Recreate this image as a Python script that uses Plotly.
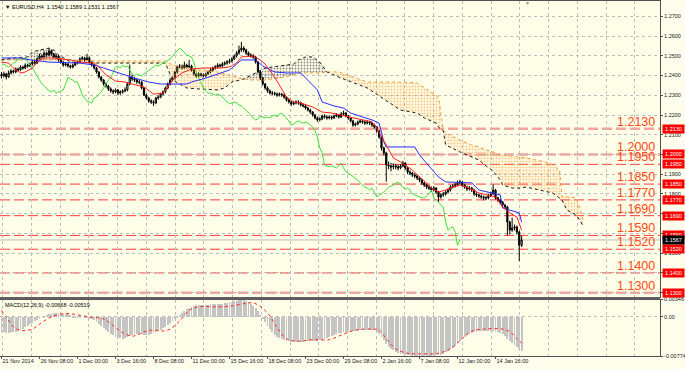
import plotly.graph_objects as go

# ---------------- DATA (prices in pips, /10000) ----------------
first_open = 12405
closes = [
    12398, 12408, 12393, 12413, 12423, 12418, 12433, 12428, 12443, 12438,
    12453, 12448, 12458, 12468, 12463, 12484, 12499, 12494, 12514, 12504,
    12524, 12509, 12494, 12499, 12479, 12468, 12453, 12458, 12448, 12443,
    12453, 12463, 12468, 12484, 12489, 12479, 12489, 12468, 12453, 12438,
    12418, 12392, 12377, 12357, 12347, 12332, 12322, 12317, 12327, 12311,
    12317, 12322, 12327, 12357, 12392, 12382, 12377, 12367, 12367, 12337,
    12301, 12286, 12271, 12266, 12261, 12286, 12291, 12306, 12317, 12337,
    12357, 12377, 12387, 12418, 12443, 12448, 12438, 12453, 12443, 12448,
    12428, 12408, 12398, 12408, 12403, 12398, 12408, 12418, 12428, 12438,
    12443, 12453, 12448, 12458, 12463, 12468, 12474, 12484, 12499, 12514,
    12529, 12539, 12529, 12514, 12504, 12499, 12494, 12468, 12418, 12387,
    12357, 12337, 12322, 12311, 12311, 12306, 12301, 12306, 12301, 12291,
    12276, 12266, 12256, 12261, 12266, 12261, 12251, 12246, 12235, 12225,
    12215, 12200, 12185, 12175, 12180, 12195, 12190, 12185, 12190, 12185,
    12195, 12200, 12190, 12205, 12210, 12195, 12185, 12170, 12149, 12154,
    12164, 12170, 12164, 12159, 12164, 12159, 12149, 12139, 12119, 12089,
    12033, 12008, 11947, 11942, 11937, 11942, 11937, 11932, 11942, 11957,
    11932, 11911, 11906, 11896, 11891, 11881, 11871, 11856, 11845, 11835,
    11830, 11820, 11830, 11810, 11785, 11795, 11800, 11810, 11820, 11835,
    11840, 11845, 11855, 11861, 11845, 11835, 11825, 11830, 11820, 11800,
    11795, 11790, 11785, 11780, 11780, 11790, 11800, 11820, 11780, 11769,
    11759, 11744, 11734, 11658, 11617, 11628, 11633, 11607, 11540, 11567,
]
highs = [
    12418, 12420, 12414, 12425, 12432, 12430, 12441, 12440, 12452, 12450,
    12462, 12460, 12466, 12478, 12475, 12492, 12510, 12508, 12522, 12520,
    12540, 12532, 12515, 12508, 12504, 12485, 12474, 12466, 12463, 12455,
    12460, 12470, 12476, 12492, 12498, 12495, 12510, 12496, 12474, 12458,
    12443, 12422, 12398, 12382, 12365, 12352, 12340, 12330, 12335, 12332,
    12325, 12330, 12340, 12365, 12455, 12405, 12392, 12385, 12378, 12372,
    12342, 12308, 12292, 12280, 12275, 12292, 12300, 12312, 12325, 12344,
    12365, 12386, 12396, 12425, 12450, 12458, 12455, 12470, 12460, 12478,
    12455, 12432, 12415, 12416, 12414, 12410, 12415, 12425, 12440, 12445,
    12452, 12462, 12460, 12468, 12472, 12478, 12485, 12492, 12506, 12524,
    12552, 12570, 12548, 12536, 12522, 12512, 12508, 12500, 12474, 12425,
    12394, 12362, 12345, 12330, 12322, 12318, 12315, 12314, 12312, 12308,
    12296, 12282, 12272, 12270, 12274, 12275, 12268, 12258, 12252, 12242,
    12232, 12220, 12206, 12192, 12188, 12202, 12204, 12198, 12198, 12196,
    12202, 12210, 12206, 12215, 12222, 12216, 12200, 12190, 12176, 12162,
    12172, 12178, 12175, 12170, 12172, 12170, 12166, 12155, 12144, 12124,
    12095, 12040, 12014, 11965, 11958, 11955, 11952, 11948, 11952, 11968,
    11962, 11938, 11920, 11912, 11905, 11898, 11888, 11878, 11862, 11852,
    11845, 11838, 11840, 11835, 11815, 11805, 11810, 11818, 11828, 11845,
    11850, 11856, 11868, 11872, 11866, 11852, 11842, 11840, 11836, 11826,
    11808, 11802, 11798, 11792, 11790, 11800, 11812, 11848, 11826, 11786,
    11775, 11765, 11750, 11740, 11664, 11680, 11645, 11640, 11614, 11589,
]
lows = [
    12385, 12390, 12380, 12388, 12405, 12410, 12412, 12420, 12422, 12430,
    12432, 12440, 12442, 12450, 12455, 12458, 12478, 12486, 12488, 12496,
    12498, 12500, 12486, 12485, 12470, 12460, 12444, 12446, 12440, 12435,
    12436, 12447, 12456, 12462, 12476, 12470, 12472, 12460, 12445, 12430,
    12410, 12385, 12368, 12348, 12338, 12322, 12312, 12305, 12310, 12300,
    12302, 12308, 12315, 12320, 12350, 12372, 12366, 12358, 12356, 12330,
    12295, 12278, 12262, 12256, 12246, 12255, 12278, 12285, 12300, 12310,
    12330, 12350, 12370, 12380, 12410, 12435, 12430, 12432, 12435, 12438,
    12420, 12400, 12388, 12392, 12394, 12390, 12392, 12402, 12412, 12420,
    12430, 12436, 12440, 12442, 12450, 12455, 12460, 12466, 12478, 12492,
    12506, 12520, 12518, 12505, 12495, 12490, 12485, 12460, 12410, 12378,
    12348, 12328, 12312, 12303, 12300, 12298, 12292, 12294, 12292, 12282,
    12268, 12258, 12246, 12250, 12254, 12252, 12243, 12238, 12228, 12218,
    12206, 12192, 12178, 12166, 12168, 12174, 12182, 12177, 12178, 12176,
    12180, 12188, 12182, 12185, 12198, 12188, 12176, 12162, 12140, 12142,
    12148, 12158, 12156, 12150, 12152, 12150, 12140, 12130, 12110, 12080,
    12020, 11995, 11862, 11925, 11915, 11925, 11925, 11920, 11925, 11935,
    11922, 11900, 11895, 11886, 11880, 11870, 11860, 11846, 11835, 11825,
    11820, 11810, 11812, 11800, 11760, 11776, 11786, 11792, 11802, 11812,
    11828, 11832, 11838, 11846, 11836, 11826, 11815, 11818, 11810, 11790,
    11785, 11780, 11775, 11768, 11770, 11772, 11784, 11795, 11772, 11760,
    11748, 11735, 11722, 11590, 11595, 11608, 11615, 11595, 11460, 11531,
]

tenkan_bars = [0, 3, 5, 8, 10, 13, 15, 18, 22, 25, 29, 33, 39, 41, 44, 48, 52, 55, 60, 64,
               68, 70, 72, 76, 80, 85, 92, 96, 99, 101, 106, 109, 111, 115, 118, 120, 123, 126, 131, 135,
               139, 146, 152, 156, 158, 160, 163, 165, 168, 171, 173, 176, 179, 181, 184, 187, 190, 193, 197, 201,
               205, 208, 211, 214, 217, 219]
tenkan = [12468, 12463, 12438, 12413, 12418, 12438, 12468, 12489, 12489, 12484, 12479, 12468, 12463, 12443, 12403, 12372, 12367, 12357, 12342, 12306,
          12311, 12342, 12377, 12413, 12433, 12438, 12438, 12443, 12463, 12494, 12499, 12479, 12458, 12392, 12327, 12291, 12266, 12261, 12241, 12215,
          12210, 12190, 12175, 12165, 12134, 12089, 12023, 11982, 11962, 11937, 11921, 11886, 11856, 11830, 11810, 11820, 11835, 11845, 11830, 11805,
          11795, 11785, 11734, 11704, 11683, 11617]

kijun_bars = [0, 8, 12, 20, 33, 39, 43, 48, 52, 56, 62, 67, 78, 80, 86, 91, 96, 99, 101, 107,
              110, 115, 120, 126, 129, 133, 135, 140, 144, 147, 152, 156, 159, 161, 162, 174, 176, 184, 187, 198,
              201, 210, 211, 218, 219]
kijun = [12489, 12489, 12479, 12468, 12463, 12453, 12438, 12418, 12403, 12387, 12367, 12357, 12357, 12367, 12387, 12408, 12428, 12458, 12479, 12479,
         12448, 12418, 12413, 12413, 12377, 12327, 12266, 12246, 12235, 12210, 12190, 12175, 12159, 12063, 12038, 12038, 11997, 11886, 11861, 11856,
         11820, 11795, 11729, 11704, 11658]

cloud_bars = [0, 2, 5, 11, 13, 16, 20, 22, 24, 27, 29, 41, 56, 69, 72, 78, 83, 91, 94, 97,
              102, 106, 111, 117, 123, 125, 128, 131, 134, 137, 139, 142, 154, 168, 175, 178, 183, 184, 186, 187,
              193, 198, 201, 204, 207, 210, 211, 215, 218, 221, 227, 229, 232, 235, 236, 238, 242, 244, 245]
span_orange = [12479, 12479, 12479, 12479, 12479, 12479, 12479, 12479, 12479, 12479, 12479, 12474, 12474, 12474, 12453, 12438, 12428, 12418, 12408, 12398,
               12382, 12377, 12377, 12387, 12403, 12413, 12413, 12413, 12413, 12418, 12418, 12418, 12367, 12367, 12362, 12337, 12296, 12291, 12124, 12109,
               12073, 12048, 12038, 12023, 12013, 11997, 11997, 11992, 11987, 11982, 11967, 11962, 11947, 11921, 11785, 11785, 11780, 11709, 11658]
span_black = [12479, 12484, 12489, 12494, 12519, 12529, 12539, 12529, 12504, 12484, 12468, 12463, 12463, 12463, 12377, 12337, 12332, 12327, 12337, 12367,
              12382, 12408, 12438, 12448, 12458, 12479, 12494, 12494, 12468, 12418, 12408, 12392, 12337, 12225, 12210, 12185, 12159, 12139, 12119, 12048,
              12013, 11987, 11972, 11942, 11916, 11871, 11845, 11830, 11830, 11835, 11820, 11815, 11805, 11779, 11769, 11719, 11693, 11658, 11632]

# MACD main (histogram) and signal, in units of 1e-5
macd_hist = [
    -290, -295, -300, -300, -295, -290, -280, -265, -245, -220,
    -190, -160, -130, -100, -70, -45, -20, 0, 20, 40,
    60, 70, 80, 85, 85, 80, 75, 70, 60, 50,
    35, 20, 10, 5, 0, -5, -10, -20, -40, -60,
    -90, -130, -170, -210, -250, -290, -320, -350, -380, -400,
    -415, -420, -410, -390, -360, -340, -330, -325, -330, -335,
    -340, -345, -340, -330, -310, -290, -270, -240, -210, -180,
    -150, -110, -70, -30, 10, 50, 90, 130, 160, 190,
    210, 230, 240, 245, 250, 250, 250, 255, 260, 260,
    265, 265, 270, 275, 285, 295, 305, 315, 325, 335,
    340, 346, 340, 325, 300, 270, 230, 180, 120, 50,
    -20, -90, -160, -230, -290, -340, -380, -410, -435, -455,
    -465, -475, -480, -485, -490, -490, -485, -480, -475, -475,
    -475, -475, -470, -465, -455, -440, -420, -400, -380, -360,
    -345, -330, -315, -300, -290, -285, -280, -275, -270, -265,
    -260, -255, -250, -245, -245, -245, -250, -255, -280, -320,
    -380, -440, -520, -580, -620, -650, -680, -700, -715, -725,
    -735, -745, -750, -755, -760, -765, -770, -774, -774, -770,
    -765, -760, -755, -750, -745, -735, -715, -690, -660, -630,
    -600, -560, -510, -460, -420, -385, -355, -330, -310, -295,
    -285, -275, -270, -268, -265, -265, -268, -270, -280, -290,
    -300, -330, -370, -420, -470, -510, -550, -590, -630, -668,
]
signal_bars = [0, 2, 6, 9, 13, 17, 21, 27, 32, 37, 41, 44, 48, 51, 55, 58, 61, 64, 68, 71,
               75, 79, 83, 91, 97, 103, 106, 110, 113, 116, 120, 125, 131, 138, 144, 149, 156, 159, 162, 166,
               171, 177, 184, 189, 194, 198, 203, 211, 214, 217, 219]
signal = [130, -10, -230, -270, -240, -110, 0, 70, 40, 0, -20, -60, -210, -310, -380, -340, -280, -260, -280, -240,
          -80, 130, 200, 200, 220, 270, 280, 170, 20, -210, -430, -480, -450, -450, -340, -260, -240, -260, -430, -630,
          -720, -730, -720, -630, -430, -280, -240, -240, -290, -430, -519]

levels = [1.2130, 1.2000, 1.1950, 1.1850, 1.1770, 1.1690, 1.1590, 1.1520, 1.1400, 1.1300]
level_labels = ["1.2130", "1.2000", "1.1950", "1.1850", "1.1770", "1.1690", "1.1590", "1.1520", "1.1400", "1.1300"]
current_price = 1.1567

x_tick_bars = [0, 16, 32, 48, 64, 80, 96, 112, 128, 144, 160, 176, 192, 208]
x_tick_labels = ["21 Nov 2014", "26 Nov 08:00", "1 Dec 00:00", "3 Dec 16:00", "8 Dec 08:00", "11 Dec 00:00",
                 "15 Dec 16:00", "18 Dec 08:00", "23 Dec 00:00", "29 Dec 08:00", "2 Jan 16:00", "7 Jan 08:00",
                 "12 Jan 00:00", "14 Jan 16:00"]
# price-axis labels; the ones hidden under the level boxes in the reference are blank
y_tick_vals = [1.13, 1.14, 1.15, 1.16, 1.17, 1.18, 1.19, 1.20, 1.21, 1.22, 1.23, 1.24, 1.25, 1.26, 1.27]
y_tick_labels = ["", "", "1.1500", "", "1.1700", "1.1800", "1.1900", "",
                 "1.2100", "1.2200", "1.2300", "1.2400", "1.2500", "1.2600", "1.2700"]
macd_tick_vals = [0.00346, 0.0, -0.00774]
macd_tick_labels = ["0.00346", "0.00", "-0.00774"]

# ---------------- BUILD ----------------
S = 10000.0
C = [v / S for v in closes]
H = [v / S for v in highs]
L = [v / S for v in lows]
O = [first_open / S] + C[:-1]
bars = list(range(len(C)))
SHIFT = 26

W, HGT = 685, 369
ML, MR, MT, MB = 0, 25, 1, 13
PW = W - ML - MR
PH = HGT - MT - MB


def fx(px):
    return (px - ML) / PW


def fy(py):
    return (HGT - MB - py) / PH


FONT = "Liberation Sans, Arial, sans-serif"
fig = go.Figure()


def cloud_groups(xs, a, b):
    pts = []
    n = len(xs)
    for j in range(n):
        pts.append((xs[j], a[j], b[j]))
        if j < n - 1:
            d0 = a[j] - b[j]
            d1 = a[j + 1] - b[j + 1]
            if d0 * d1 < 0:
                t = d0 / (d0 - d1)
                xc = xs[j] + t * (xs[j + 1] - xs[j])
                yc = a[j] + t * (a[j + 1] - a[j])
                pts.append((xc, yc, yc))
    groups = []
    cur = None
    for j in range(len(pts) - 1):
        p0, p1 = pts[j], pts[j + 1]
        s = (p0[1] - p0[2]) + (p1[1] - p1[2])
        sign = 1 if s > 0 else -1
        if cur is None or cur[0] != sign:
            cur = [sign, [p0]]
            groups.append(cur)
        cur[1].append(p1)
    return groups


so = [v / S for v in span_orange]
sk = [v / S for v in span_black]
for sign, pts in cloud_groups(cloud_bars, so, sk):
    xs = [p[0] for p in pts]
    ya = [p[1] for p in pts]
    yb = [p[2] for p in pts]
    col = "#F39A2E" if sign > 0 else "#1A1A1A"
    fig.add_trace(go.Scatter(
        x=xs + xs[::-1], y=ya + yb[::-1], mode="lines", line=dict(width=0),
        fill="toself", fillcolor="rgba(0,0,0,0)",
        fillpattern=dict(shape=".", fgcolor=col, bgcolor="rgba(0,0,0,0)", size=3,
                         solidity=0.4 if sign > 0 else 0.3),
        hoverinfo="skip", showlegend=False, xaxis="x", yaxis="y"))

fig.add_trace(go.Scatter(x=cloud_bars, y=so, mode="lines",
                         line=dict(color="#F39A2E", width=1, dash="dot"),
                         hoverinfo="skip", showlegend=False))
fig.add_trace(go.Scatter(x=cloud_bars, y=sk, mode="lines",
                         line=dict(color="#1A1A1A", width=1, dash="dot"),
                         hoverinfo="skip", showlegend=False))

fig.add_trace(go.Candlestick(
    x=bars, open=O, high=H, low=L, close=C,
    increasing=dict(line=dict(color="#000000", width=1), fillcolor="#FFFFFF"),
    decreasing=dict(line=dict(color="#000000", width=1), fillcolor="#000000"),
    whiskerwidth=0, hoverinfo="skip", showlegend=False))

fig.add_trace(go.Scatter(x=[b - SHIFT for b in bars[SHIFT:]], y=C[SHIFT:], mode="lines",
                         line=dict(color="#3FE03F", width=1), hoverinfo="skip", showlegend=False))
fig.add_trace(go.Scatter(x=kijun_bars, y=[v / S for v in kijun], mode="lines",
                         line=dict(color="#2B2BFF", width=1), hoverinfo="skip", showlegend=False))
fig.add_trace(go.Scatter(x=tenkan_bars, y=[v / S for v in tenkan], mode="lines",
                         line=dict(color="#FF2020", width=1), hoverinfo="skip", showlegend=False))

# MACD panel
fig.add_trace(go.Bar(x=bars, y=[v * 1e-5 for v in macd_hist], width=0.42,
                     marker=dict(color="#C4C4C4", line=dict(width=0)),
                     xaxis="x2", yaxis="y2", hoverinfo="skip", showlegend=False))
fig.add_trace(go.Scatter(x=signal_bars, y=[v * 1e-5 for v in signal], mode="lines",
                         line=dict(color="#FF2020", width=1, dash="dot", shape="spline"),
                         xaxis="x2", yaxis="y2", hoverinfo="skip", showlegend=False))

# ---------------- LAYOUT ----------------
bar_px = 2.375
x0_px = 1.5
xr = [(0 - x0_px) / bar_px, (PW - x0_px) / bar_px]
grid_bars = [(2.7 + 28.73 * k - x0_px) / bar_px for k in range(23)]
y_main = [1.27 - (297 - 16.3) / 1974, 1.27 + (16.3 - 1) / 1974]

frame = "#505050"
gridc = "#BDBDBD"
fig.update_layout(
    width=W, height=HGT, margin=dict(l=ML, r=MR, t=MT, b=MB, autoexpand=False),
    paper_bgcolor="#FEFDEC", plot_bgcolor="#FEFDE8",
    showlegend=False, bargap=0,
    font=dict(family=FONT, size=6, color="#202020"),
    xaxis=dict(range=xr, anchor="y", domain=[0, 1], showticklabels=False, ticks="",
               showgrid=False, zeroline=False, showline=True, mirror=True,
               linecolor=frame, linewidth=1, rangeslider=dict(visible=False),
               minor=dict(tickvals=grid_bars, showgrid=True, gridcolor=gridc,
                          griddash="dot", gridwidth=1, ticks="")),
    yaxis=dict(range=y_main, domain=[fy(297), fy(1)], side="right", anchor="x",
               tickvals=y_tick_vals, ticktext=y_tick_labels, ticks="outside", ticklen=2,
               tickcolor=frame, tickfont=dict(size=5.5, family=FONT, color="#202020"),
               showgrid=True, gridcolor=gridc, griddash="dot", zeroline=False,
               showline=True, mirror=True, linecolor=frame, linewidth=1),
    xaxis2=dict(range=xr, anchor="y2", domain=[0, 1], matches="x",
                tickvals=x_tick_bars, ticktext=x_tick_labels, ticks="outside", ticklen=2,
                tickcolor=frame, ticklabelposition="outside right", tickangle=0,
                ticklabelstandoff=-1,
                tickfont=dict(size=5.5, family=FONT, color="#202020"),
                showgrid=False, zeroline=False, showline=True, mirror=True,
                linecolor=frame, linewidth=1,
                minor=dict(tickvals=grid_bars, showgrid=True, gridcolor=gridc,
                           griddash="dot", gridwidth=1, ticks="")),
    yaxis2=dict(range=[-0.00774, 0.00346], domain=[fy(356), fy(299.5)], side="right", anchor="x2",
                tickvals=macd_tick_vals, ticktext=macd_tick_labels, ticks="outside", ticklen=2,
                tickcolor=frame, tickfont=dict(size=5.5, family=FONT, color="#202020"),
                showgrid=True, gridcolor=gridc, griddash="dot", zeroline=False,
                showline=True, mirror=True, linecolor=frame, linewidth=1),
)

shapes = []
thick = {1.2130, 1.2000, 1.1300}
for lv in levels:
    if lv in thick:
        ln = dict(color="#F5A49C", width=2.5, dash="10px,4px")
    else:
        ln = dict(color="#FF3A3A", width=1, dash="10px,4px")
    shapes.append(dict(type="line", xref="x", yref="y", x0=xr[0], x1=xr[1], y0=lv, y1=lv,
                       line=ln, layer="below"))
shapes.append(dict(type="line", xref="x", yref="y", x0=xr[0], x1=xr[1], y0=current_price,
                   y1=current_price, line=dict(color="#BDBDBD", width=1), layer="below"))
shapes.append(dict(type="rect", xref="paper", yref="paper", x0=0, x1=1, y0=fy(299.5), y1=fy(297),
                   fillcolor="#606060", line=dict(width=0), layer="above"))
fig.update_layout(shapes=shapes)

ann = []
for lv, txt in zip(levels, level_labels):
    ann.append(dict(xref="paper", yref="y", x=fx(657), y=lv, xanchor="right", yanchor="bottom",
                    yshift=-2, text=txt, showarrow=False,
                    font=dict(family=FONT, size=12.5, color="#FF4A14")))
    ann.append(dict(xref="paper", yref="y", x=fx(661.5), y=lv, xanchor="left", yanchor="middle",
                    text=txt, showarrow=False, bgcolor="#FF0000", borderpad=1, width=19,
                    font=dict(family=FONT, size=5.5, color="#FFFFFF")))
ann.append(dict(xref="paper", yref="y", x=fx(661.5), y=current_price, xanchor="left", yanchor="middle",
                text="1.1567", showarrow=False, bgcolor="#000000", borderpad=1, width=19,
                font=dict(family=FONT, size=5.5, color="#FFFFFF")))
ann.append(dict(xref="paper", yref="paper", x=fx(3), y=fy(7), xanchor="left", yanchor="middle",
                text="▼ EURUSD,H4  1.1540 1.1589 1.1531 1.1567", showarrow=False,
                font=dict(family=FONT, size=5.5, color="#000000")))
ann.append(dict(xref="paper", yref="paper", x=fx(3), y=fy(305), xanchor="left", yanchor="middle",
                text="MACD(12,26,9) -0.00668 -0.00519", showarrow=False,
                font=dict(family=FONT, size=5.5, color="#000000")))
ann.append(dict(xref="paper", yref="paper", x=fx(527), y=fy(3.5), xanchor="center", yanchor="middle",
                text="▼", showarrow=False, font=dict(family=FONT, size=5, color="#909090")))
fig.update_layout(annotations=ann)

fig.write_html("out.html", config={"displayModeBar": False},
               post_script="document.body.style.margin='0';document.body.style.overflow='hidden';")
